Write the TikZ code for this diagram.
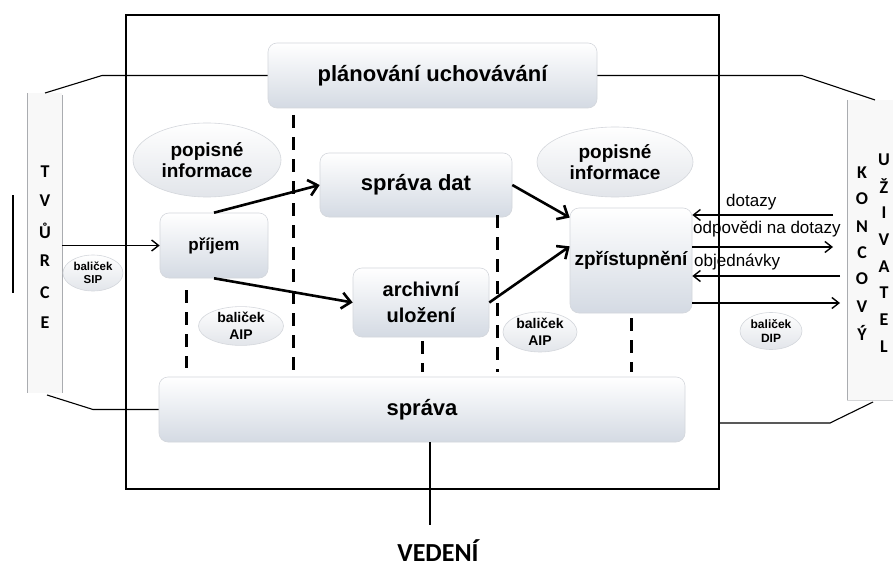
\documentclass[tikz,border=0pt]{standalone}
\usepackage{fontspec}
\setmainfont{Liberation Sans}
\newfontfamily\calfont{Carlito}
\usetikzlibrary{arrows.meta,shapes.geometric,calc}
\newcommand\fsz[2]{\fontsize{#1}{#2}\selectfont}
\definecolor{boxbot}{RGB}{212,218,227}
\definecolor{boxedge}{RGB}{212,215,220}
\definecolor{ellbot}{RGB}{226,229,234}
\definecolor{panelfill}{RGB}{248,248,248}
\definecolor{panelline}{RGB}{170,172,176}
\tikzset{
  procbox/.style={rectangle, rounded corners=9pt, draw=boxedge, line width=0.6pt,
    top color=white, bottom color=boxbot, inner sep=0pt, align=center},
  infoell/.style={ellipse, draw=boxedge, line width=0.6pt,
    top color=white, bottom color=ellbot, inner sep=0pt, align=center},
  flow/.style={line width=2.6pt, -{Straight Barb[length=9pt,width=16pt]}},
  msg/.style={line width=1.4pt, -{Straight Barb[length=7pt,width=11pt]}},
  sepline/.style={line width=3pt, dash pattern=on 13pt off 9pt},
  link/.style={line width=1.1pt},
  sideletter/.style={font=\calfont\bfseries\fsz{18}{18}, inner sep=0pt},
  msglabel/.style={font=\fsz{17}{17}, inner sep=0pt, anchor=west},
}
\begin{document}
\begin{tikzpicture}[x=1pt,y=-1pt]
\useasboundingbox (0,0) rectangle (893,567);
% main frame
\node[draw, line width=2pt, fill=white, minimum width=593pt, minimum height=474pt, inner sep=0pt] (frame) at (422.5,252) {};
% side panels
\fill[panelfill] (27,93) rectangle (62,393);
\draw[panelline, line width=0.6pt] (27,93) -- (27,393);
\draw[panelline, line width=1pt] (62,95) -- (62,393);
\fill[panelfill] (847,100) rectangle (893,400);
\draw[panelline, line width=1pt] (847,100) -- (847,400);
\draw[panelline!50, line width=0.6pt] (847,400) -- (893,400);
\draw[line width=2pt] (13,195) -- (13,293);

% boxes
\node[procbox, minimum width=329pt, minimum height=65pt, font=\bfseries\fsz{22}{24}] (plan) at (432.5,75.5) {plánování uchovávání};
\node[procbox, minimum width=108pt, minimum height=65pt, font=\bfseries\fsz{17}{20}] (prijem) at (214,245.5) {příjem};
\node[procbox, minimum width=192pt, minimum height=64pt, font=\bfseries\fsz{22}{24}] (sdat) at (416,185) {správa dat};
\node[procbox, minimum width=136pt, minimum height=69pt, font=\bfseries\fsz{20}{26}] (arch) at (421,302.5) {archivní\\uložení};
\node[procbox, minimum width=122pt, minimum height=105pt, font=\bfseries\fsz{19}{22}] (zpr) at (631,260.5) {zpřístupnění};
\node[procbox, minimum width=526pt, minimum height=65pt, font=\bfseries\fsz{22}{24}] (sprava) at (422,409.5) {správa};

% ellipses
\node[infoell, minimum width=148pt, minimum height=74pt, font=\bfseries\fsz{19}{21}] (pop1) at (207,160) {popisné\\informace};
\node[infoell, minimum width=156pt, minimum height=70pt, font=\bfseries\fsz{19}{21}] (pop2) at (615,162) {popisné\\informace};
\node[infoell, minimum width=60pt, minimum height=36pt, font=\bfseries\fsz{11.5}{13}] (sip) at (93,273) {baliček\\SIP};
\node[infoell, minimum width=85pt, minimum height=36pt, font=\bfseries\fsz{14}{17}] (aip1) at (241,326) {baliček\\AIP};
\node[infoell, minimum width=74pt, minimum height=40pt, font=\bfseries\fsz{14}{17}] (aip2) at (540,332) {baliček\\AIP};
\node[infoell, minimum width=62pt, minimum height=37pt, font=\bfseries\fsz{12}{14}] (dip) at (771,331) {baliček\\DIP};

% dashed separators
\coordinate (d1a) at (186,290); \coordinate (d1b) at (186,368);
\coordinate (d2a) at (293,115); \coordinate (d2b) at (293,370);
\coordinate (d3a) at (422,341); \coordinate (d3b) at (422,372);
\coordinate (d4a) at (497,215); \coordinate (d4b) at (497,372);
\coordinate (d5a) at (631,318); \coordinate (d5b) at (631,372);
\draw[sepline] (d1a) -- (d1b);
\draw[sepline] (d2a) -- (d2b);
\draw[sepline] (d3a) -- (d3b);
\draw[sepline] (d4a) -- (d4b);
\draw[sepline] (d5a) -- (d5b);

% flows
\draw[flow] (prijem.north) -- (sdat.west);
\draw[flow] (prijem.south) -- (arch.west);
\draw[flow] (sdat.east) -- (zpr.145);
\draw[flow] (arch.east) -- (zpr.167);

% side panel links
\coordinate (tl1) at (45,93); \coordinate (tl2) at (102,75.5);
\coordinate (bl1) at (47,395); \coordinate (bl2) at (93,409.5);
\coordinate (tr1) at (802,75.5); \coordinate (tr2) at (875,100);
\coordinate (br1) at (830,423); \coordinate (br2) at (873,402);
\draw[link] (tl1) -- (tl2) -- (plan.west);
\draw[link] (bl1) -- (bl2) -- (sprava.west);
\draw[link] (plan.east) -- (tr1) -- (tr2);
\draw[link] (frame.east |- br1) -- (br1) -- (br2);

% producer arrow
\coordinate (tvout) at (62,245.5);
\draw[msg] (tvout) -- (prijem.west);

% consumer arrows
\coordinate (q1) at (833,215);
\coordinate (q2) at (833,247);
\coordinate (q3) at (840,276);
\coordinate (q4) at (840,303);
\draw[msg] (q1) -- (zpr.east |- q1);
\draw[msg] (zpr.east |- q2) -- (q2);
\draw[msg] (q3) -- (zpr.east |- q3);
\draw[msg] (zpr.east |- q4) -- (q4);
\node[msglabel] (l1) at (726,202) {dotazy};
\node[msglabel] (l2) at (693,229) {odpovědi na dotazy};
\node[msglabel] (l3) at (694,262) {objednávky};

% vedeni
\node[font=\calfont\bfseries\fsz{26}{26}, inner sep=0pt] (ved) at (438,551) {VEDENÍ};
\coordinate (vl) at (430,525);
\draw[link] (sprava.south -| vl) -- (vl);

% side letters
\node[sideletter] (t1) at (45,172) {T};
\node[sideletter] (t2) at (45,201) {V};
\node[sideletter] (t3) at (45,231) {Ů};
\node[sideletter] (t4) at (45,261) {R};
\node[sideletter] (t5) at (45,293) {C};
\node[sideletter] (t6) at (45,323) {E};

\node[sideletter] (k1) at (862,173) {K};
\node[sideletter] (k2) at (862,199) {O};
\node[sideletter] (k3) at (862,227) {N};
\node[sideletter] (k4) at (862,253) {C};
\node[sideletter] (k5) at (862,279) {O};
\node[sideletter] (k6) at (862,307) {V};
\node[sideletter] (k7) at (862,333) {Ý};

\node[sideletter] (u1) at (884,160) {U};
\node[sideletter] (u2) at (884,186) {Ž};
\node[sideletter] (u3) at (884,213) {I};
\node[sideletter] (u4) at (884,240) {V};
\node[sideletter] (u5) at (884,267) {A};
\node[sideletter] (u6) at (884,293) {T};
\node[sideletter] (u7) at (884,320) {E};
\node[sideletter] (u8) at (884,347) {L};
\end{tikzpicture}
\end{document}
